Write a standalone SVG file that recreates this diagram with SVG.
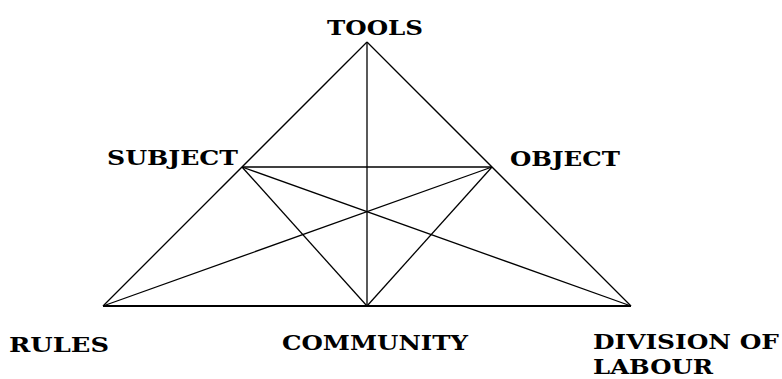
<svg xmlns="http://www.w3.org/2000/svg" width="782" height="379" viewBox="0 0 782 379">
<style>
.lbl{font-family:"DejaVu Serif","Liberation Serif",serif;font-weight:bold;font-size:21px;fill:#000}
.ln{stroke:#000;stroke-width:1.3;fill:none}
</style>
<rect width="782" height="379" fill="#fff"/>
<g id="connectors">
<line class="ln" x1="367" y1="42" x2="103" y2="306"/>
<line class="ln" x1="367" y1="42" x2="631" y2="306"/>
<line class="ln" x1="103" y1="306" x2="631" y2="306" style="stroke-width:2"/>
<line class="ln" x1="367" y1="42" x2="367" y2="306"/>
<line class="ln" x1="242" y1="167" x2="492" y2="167"/>
<line class="ln" x1="242" y1="167" x2="367" y2="306"/>
<line class="ln" x1="492" y1="167" x2="367" y2="306"/>
<line class="ln" x1="242" y1="167" x2="631" y2="306"/>
<line class="ln" x1="492" y1="167" x2="103" y2="306"/>
</g>
<g id="tools"><text class="lbl" x="327" y="35" textLength="96" lengthAdjust="spacingAndGlyphs">TOOLS</text></g>
<g id="subject"><text class="lbl" x="107" y="165" textLength="131" lengthAdjust="spacingAndGlyphs">SUBJECT</text></g>
<g id="object"><text class="lbl" x="510" y="166" textLength="110" lengthAdjust="spacingAndGlyphs">OBJECT</text></g>
<g id="rules"><text class="lbl" x="9" y="352" textLength="100" lengthAdjust="spacingAndGlyphs">RULES</text></g>
<g id="community"><text class="lbl" x="282" y="350" textLength="186" lengthAdjust="spacingAndGlyphs">COMMUNITY</text></g>
<g id="division"><text class="lbl" x="593" y="349" textLength="186" lengthAdjust="spacingAndGlyphs">DIVISION OF</text><text class="lbl" x="593" y="374" textLength="120" lengthAdjust="spacingAndGlyphs">LABOUR</text></g>
</svg>
